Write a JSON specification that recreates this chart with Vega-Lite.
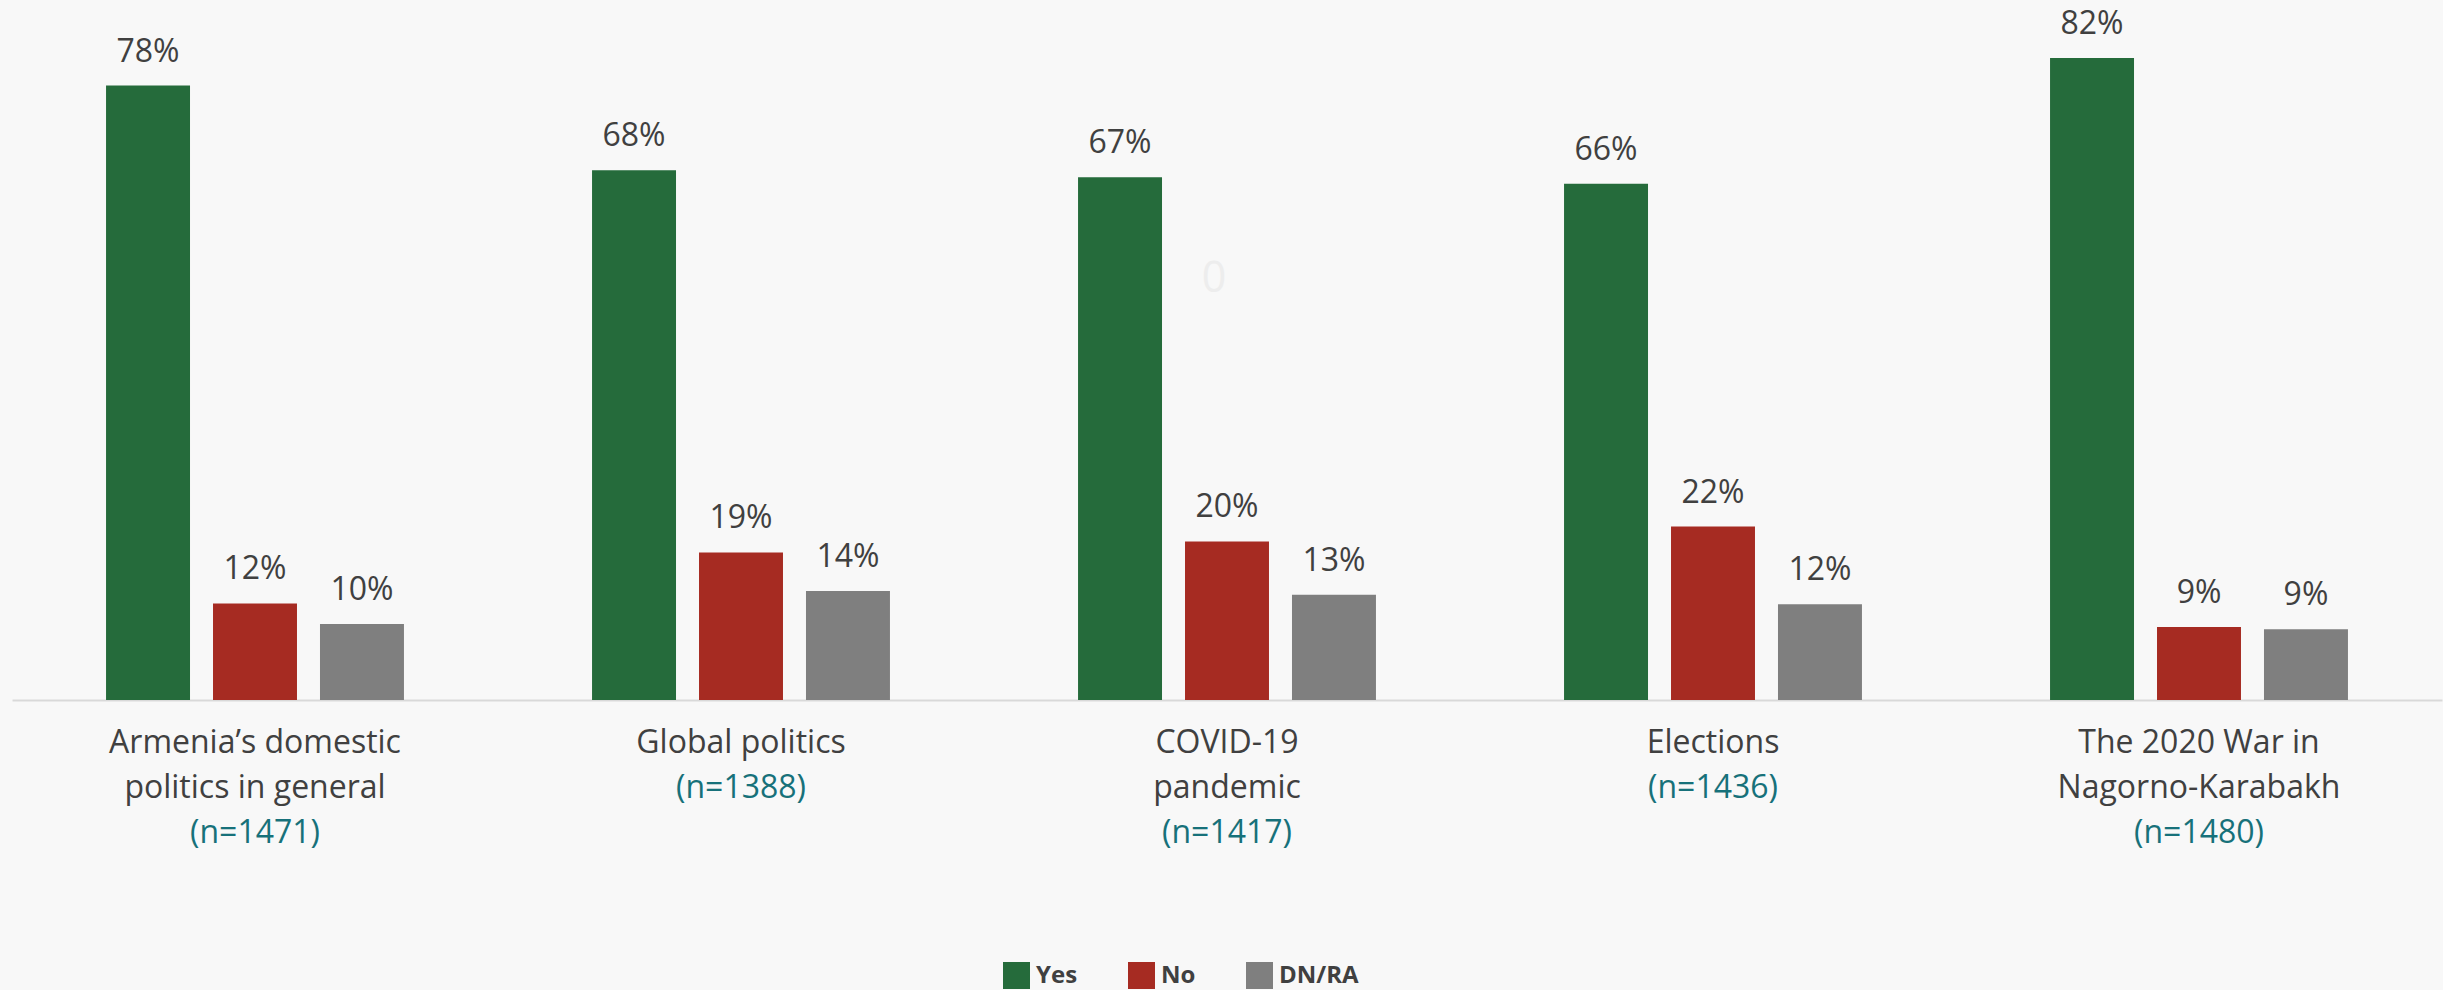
{
  "$schema": "https://vega.github.io/schema/vega-lite/v6.json",
  "width": 2430,
  "height": 700,
  "autosize": {"type": "none"},
  "padding": {"left": 12, "top": 0, "right": 1, "bottom": 290},
  "background": "#f8f8f8",
  "config": {"view": {"stroke": null}, "font": "Open Sans"},
  "datasets": {
    "survey": [
      {"topic": "Armenia’s domestic|politics in general|(n=1471)", "response": "Yes", "share": 0.783},
      {"topic": "Armenia’s domestic|politics in general|(n=1471)", "response": "No", "share": 0.123},
      {"topic": "Armenia’s domestic|politics in general|(n=1471)", "response": "DN/RA", "share": 0.097},
      {"topic": "Global politics|(n=1388)", "response": "Yes", "share": 0.675},
      {"topic": "Global politics|(n=1388)", "response": "No", "share": 0.188},
      {"topic": "Global politics|(n=1388)", "response": "DN/RA", "share": 0.139},
      {"topic": "COVID-19|pandemic|(n=1417)", "response": "Yes", "share": 0.666},
      {"topic": "COVID-19|pandemic|(n=1417)", "response": "No", "share": 0.202},
      {"topic": "COVID-19|pandemic|(n=1417)", "response": "DN/RA", "share": 0.134},
      {"topic": "Elections|(n=1436)", "response": "Yes", "share": 0.658},
      {"topic": "Elections|(n=1436)", "response": "No", "share": 0.221},
      {"topic": "Elections|(n=1436)", "response": "DN/RA", "share": 0.122},
      {"topic": "The 2020 War in|Nagorno-Karabakh|(n=1480)", "response": "Yes", "share": 0.818},
      {"topic": "The 2020 War in|Nagorno-Karabakh|(n=1480)", "response": "No", "share": 0.093},
      {"topic": "The 2020 War in|Nagorno-Karabakh|(n=1480)", "response": "DN/RA", "share": 0.090}
    ],
    "stray": [
      {"topic": "COVID-19|pandemic|(n=1417)", "response": "No", "share": 0.536, "note": "0"}
    ]
  },
  "layer": [
    {
      "data": {"name": "survey"},
      "mark": {"type": "bar"},
      "encoding": {
        "x": {
          "field": "topic", "type": "nominal", "sort": null,
          "scale": {"paddingInner": 0.387, "paddingOuter": 0.1935},
          "axis": {
            "orient": "bottom", "title": null, "ticks": false,
            "domainColor": "#d9d9d9", "domainWidth": 2,
            "labelFont": "Open Sans", "labelFontSize": 32, "labelLineHeight": 45,
            "labelColor": "#404040", "labelPadding": 27, "labelAngle": 0,
            "labelLimit": 0, "labelOverlap": false, "grid": false,
            "labelExpr": "slice(split(datum.value,'|'),0,-1)"
          }
        },
        "xOffset": {
          "field": "response", "type": "nominal",
          "sort": ["Yes", "No", "DN/RA"],
          "scale": {"paddingInner": 0.215, "paddingOuter": 0}
        },
        "y": {
          "field": "share", "type": "quantitative",
          "scale": {"domain": [0, 0.892], "nice": false},
          "axis": null
        },
        "color": {
          "field": "response", "type": "nominal",
          "sort": ["Yes", "No", "DN/RA"],
          "scale": {"domain": ["Yes", "No", "DN/RA"], "range": ["#256b3b", "#a62b22", "#7f7f7f"]},
          "legend": {
            "orient": "none", "legendX": 991, "legendY": 962,
            "direction": "horizontal", "title": null,
            "symbolType": "square", "symbolSize": 729, "symbolStrokeWidth": 0, "symbolOpacity": 1,
            "labelFont": "Open Sans", "labelFontSize": 24, "labelFontWeight": "bold",
            "labelColor": "#404040", "labelOffset": 6, "columnPadding": 50, "padding": 0
          }
        }
      }
    },
    {
      "data": {"name": "survey"},
      "mark": {"type": "text", "baseline": "alphabetic", "dy": -24, "fontSize": 32, "font": "Open Sans", "color": "#404040"},
      "encoding": {
        "x": {
          "field": "topic", "type": "nominal", "sort": null,
          "axis": {
            "orient": "bottom", "title": null, "ticks": false, "domain": false,
            "labelFont": "Open Sans", "labelFontSize": 32,
            "labelColor": "#17717a", "labelPadding": 72, "labelAngle": 0,
            "labelLimit": 0, "labelOverlap": false, "grid": false,
            "labelExpr": "length(split(datum.value,'|'))==2 ? peek(split(datum.value,'|')) : ''"
          }
        },
        "xOffset": {"field": "response", "type": "nominal", "sort": ["Yes", "No", "DN/RA"]},
        "y": {"field": "share", "type": "quantitative"},
        "text": {"field": "share", "type": "quantitative", "format": ".0%"}
      }
    },
    {
      "data": {"name": "stray"},
      "mark": {"type": "text", "baseline": "middle", "dx": -13, "fontSize": 43, "font": "Open Sans", "color": "#ededed"},
      "encoding": {
        "x": {
          "field": "topic", "type": "nominal", "sort": null,
          "axis": {
            "orient": "bottom", "title": null, "ticks": false, "domain": false,
            "labelFont": "Open Sans", "labelFontSize": 32,
            "labelColor": "#17717a", "labelPadding": 117, "labelAngle": 0,
            "labelLimit": 0, "labelOverlap": false, "grid": false,
            "labelExpr": "length(split(datum.value,'|'))==3 ? peek(split(datum.value,'|')) : ''"
          }
        },
        "xOffset": {"field": "response", "type": "nominal", "sort": ["Yes", "No", "DN/RA"]},
        "y": {"field": "share", "type": "quantitative"},
        "text": {"field": "note", "type": "nominal"}
      }
    }
  ],
  "resolve": {"axis": {"x": "independent"}}
}
